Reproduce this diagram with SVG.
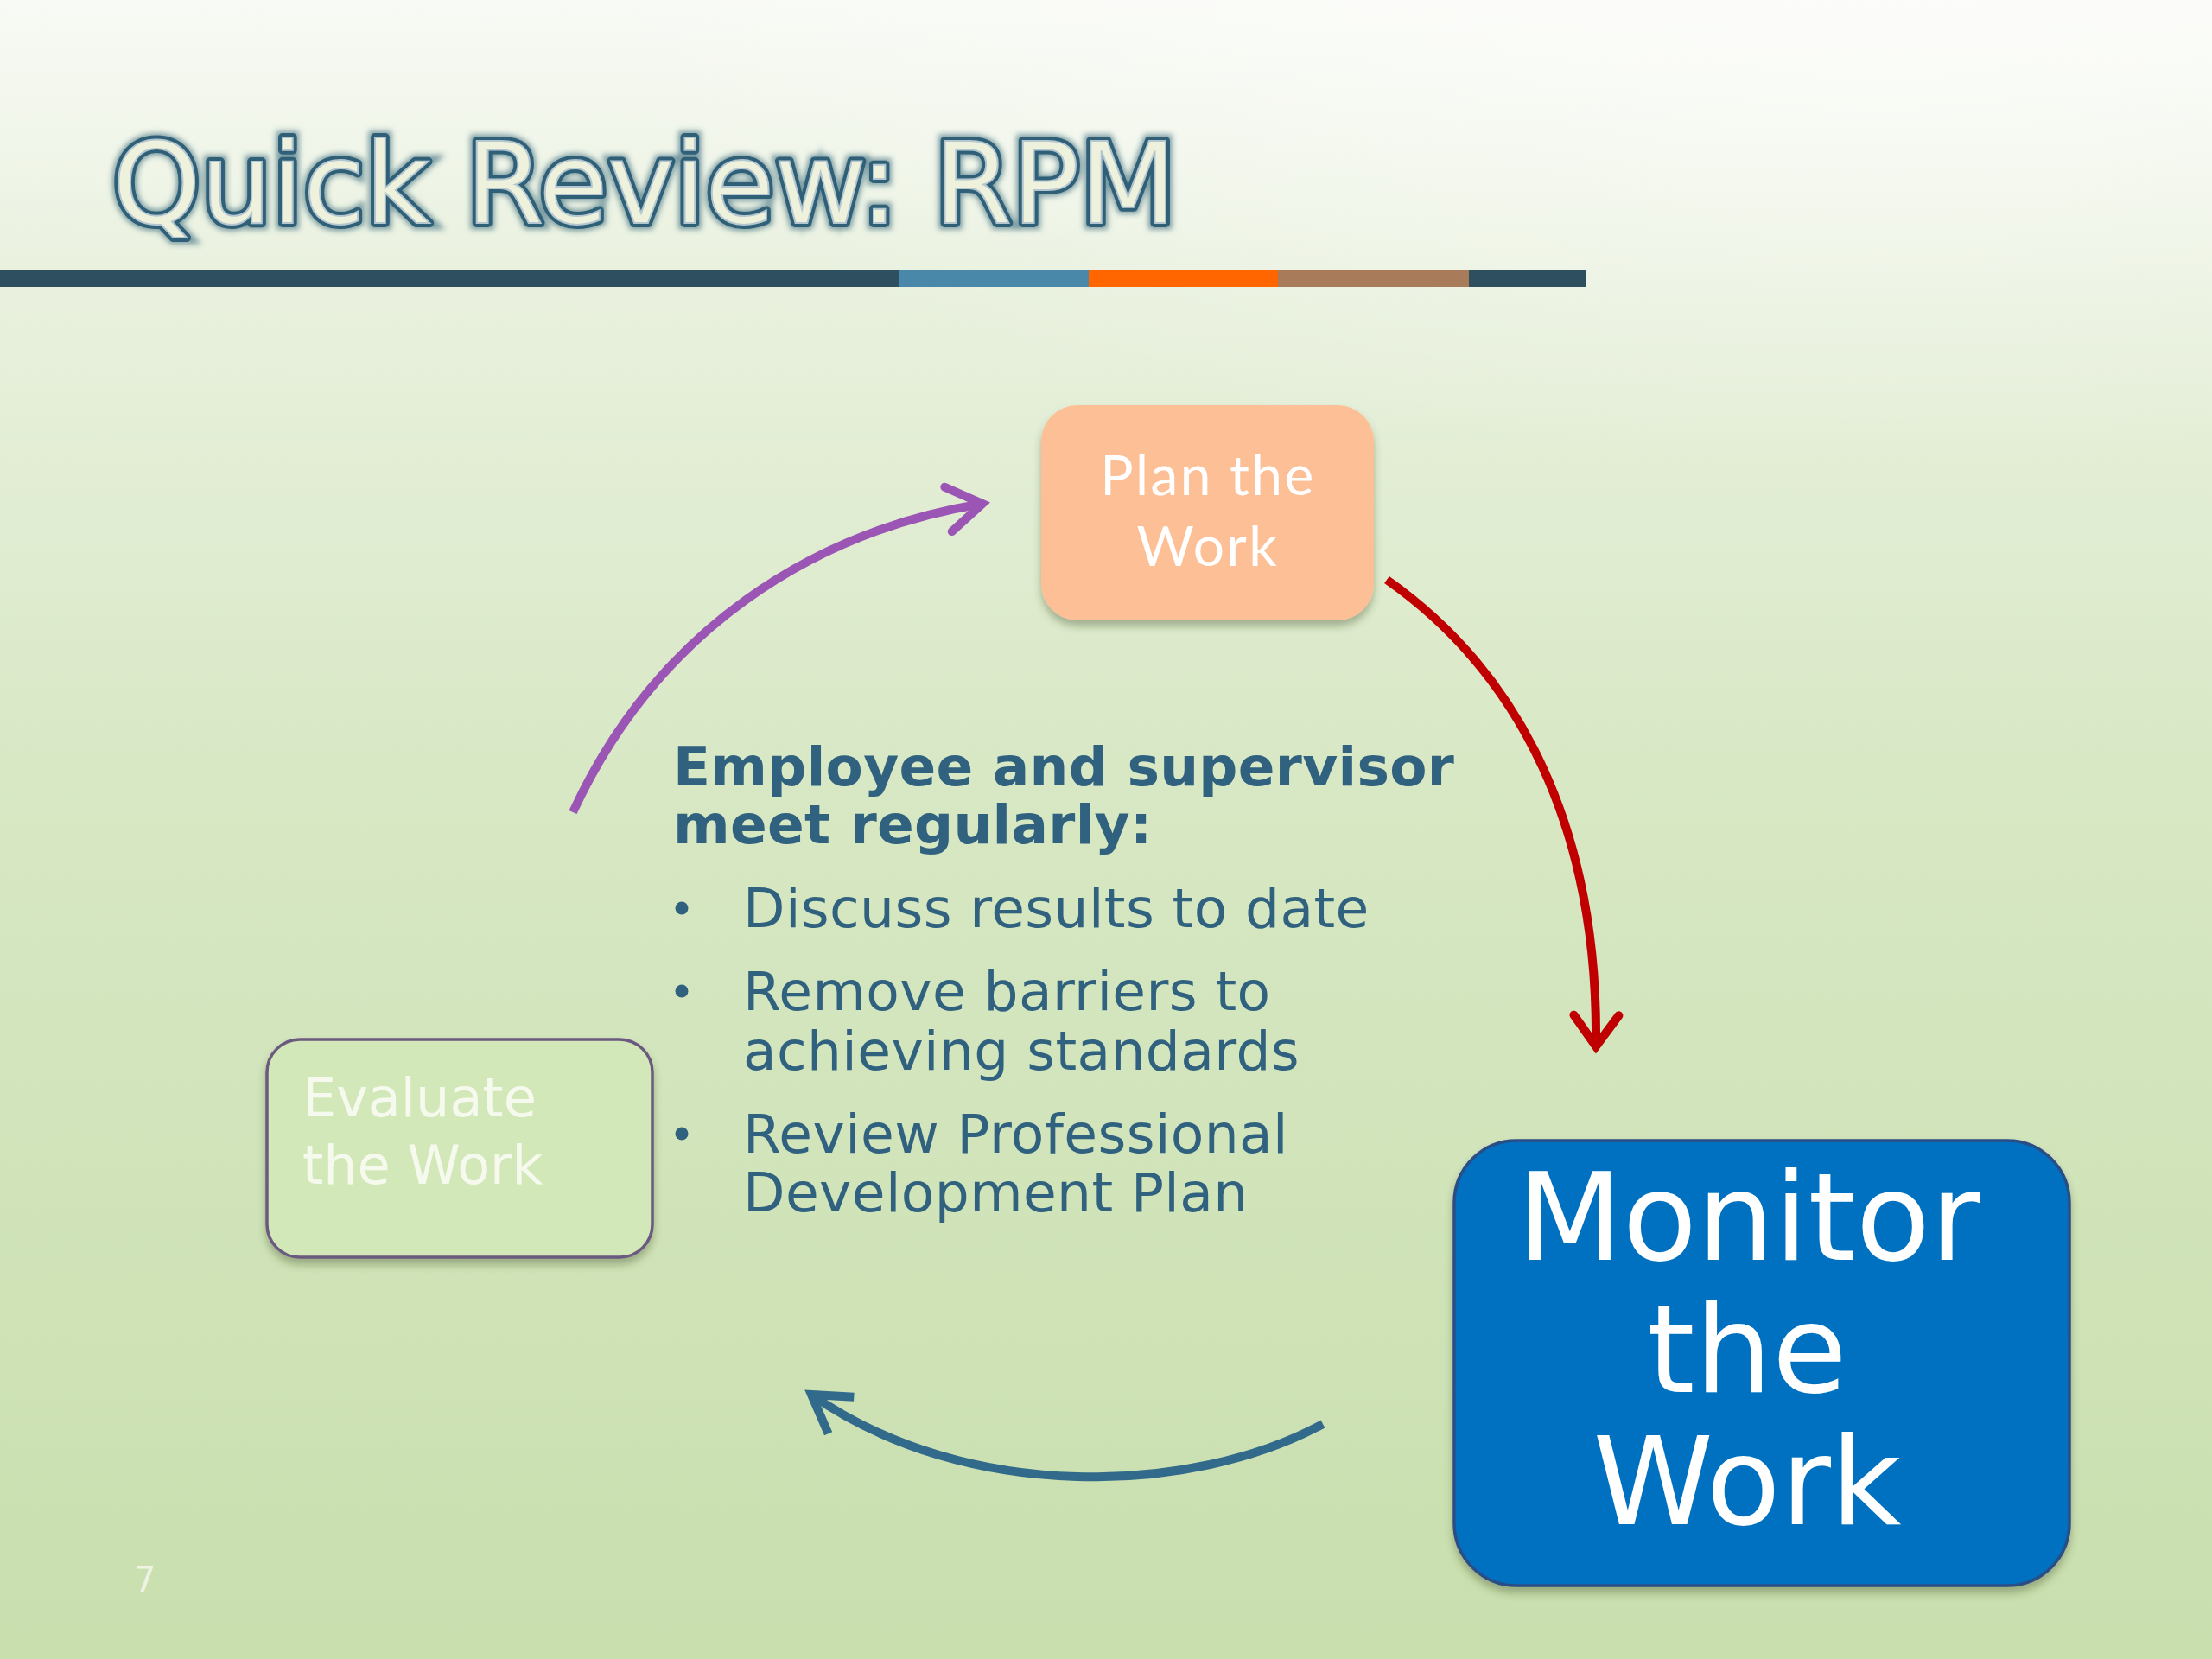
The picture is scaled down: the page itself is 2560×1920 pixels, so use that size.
<svg xmlns="http://www.w3.org/2000/svg" width="2560" height="1920" viewBox="0 0 2560 1920">
  <defs>
    <linearGradient id="bg" x1="0" y1="0" x2="0" y2="1">
      <stop offset="0" stop-color="#f8faf5"/>
      <stop offset="0.17" stop-color="#e9f1de"/>
      <stop offset="0.5" stop-color="#d6e7c2"/>
      <stop offset="1" stop-color="#c9dfae"/>
    </linearGradient>
    <radialGradient id="glow" cx="0.85" cy="0" r="0.6">
      <stop offset="0" stop-color="#ffffff" stop-opacity="0.6"/>
      <stop offset="1" stop-color="#ffffff" stop-opacity="0"/>
    </radialGradient>
    <filter id="shadow" x="-10%" y="-10%" width="120%" height="130%">
      <feDropShadow dx="0" dy="7" stdDeviation="5" flood-color="#304020" flood-opacity="0.35"/>
    </filter>
    <filter id="tblur" x="-5%" y="-20%" width="110%" height="140%">
      <feGaussianBlur stdDeviation="3"/>
    </filter>
    <marker id="ahPurple" markerUnits="strokeWidth" orient="auto" overflow="visible" markerWidth="10" markerHeight="10">
      <path d="M-4,-2.6 L0,0 L-4,2.6" fill="none" stroke="#9b55b5" stroke-width="1" stroke-linecap="round"/>
    </marker>
    <marker id="ahRed" markerUnits="strokeWidth" orient="auto" overflow="visible" markerWidth="10" markerHeight="10">
      <path d="M-3.6,-2.6 L0,0 L-3.6,2.6" fill="none" stroke="#c00000" stroke-width="1" stroke-linecap="round"/>
    </marker>
    <marker id="ahBlue" markerUnits="strokeWidth" orient="auto" overflow="visible" markerWidth="10" markerHeight="10">
      <path d="M-4.2,-2.6 L0,0 L-4.2,2.6" fill="none" stroke="#316a8a" stroke-width="1" stroke-linecap="butt"/>
    </marker>
    <style>
      .title { font-family: "DejaVu Sans", Verdana, sans-serif; font-size: 130px; }
      .body { font-family: "DejaVu Sans", Verdana, sans-serif; fill: #30617f; font-size: 63px; letter-spacing: 0.4px; }
      .bold { font-weight: bold; letter-spacing: 0.3px; }
      .dot { fill: #30617f; }
      .plan { font-family: Lato, "Open Sans", sans-serif; font-size: 64px; fill: #ffffff; letter-spacing: 2.5px; }
      .eval { font-family: "DejaVu Sans", Verdana, sans-serif; font-size: 62px; fill: #f6faee; }
      .mon { font-family: "DejaVu Sans", Verdana, sans-serif; font-size: 141px; fill: #ffffff; }
      .conn { fill: none; stroke-linecap: butt; }
    </style>
  </defs>

  <rect x="0" y="0" width="2560" height="1920" fill="url(#bg)"/>
  <rect x="0" y="0" width="2560" height="900" fill="url(#glow)"/>

  <g id="title">
    <text class="title" x="130" y="258" fill="none" stroke="#2e5f75" stroke-width="15" stroke-opacity="0.6" filter="url(#tblur)">Quick Review: RPM</text>
    <text class="title" x="130" y="258" fill="none" stroke="#2f6078" stroke-width="10" stroke-linejoin="round">Quick Review: RPM</text>
    <text class="title" x="130" y="258" fill="#eef2dc" stroke="#b4c6cf" stroke-width="2">Quick Review: RPM</text>
  </g>

  <g id="title-bar">
    <rect x="0" y="312" width="1040" height="20" fill="#2d4f5f"/>
    <rect x="1040" y="312" width="220" height="20" fill="#4a88aa"/>
    <rect x="1260" y="312" width="219" height="20" fill="#ff6600"/>
    <rect x="1479" y="312" width="221" height="20" fill="#a87c5a"/>
    <rect x="1700" y="312" width="135" height="20" fill="#2d4f5f"/>
  </g>

  <g id="connectors">
    <path class="conn" d="M663,940 C760,730 940,615 1137,583" stroke="#9b55b5" stroke-width="10" marker-end="url(#ahPurple)"/>
    <path class="conn" d="M1605,671 C1760,780 1850,960 1847,1211" stroke="#c00000" stroke-width="10" marker-end="url(#ahRed)"/>
    <path class="conn" d="M1531,1648 C1380,1730 1120,1740 939,1614" stroke="#316a8a" stroke-width="10" marker-end="url(#ahBlue)"/>
  </g>

  <g id="node-plan">
    <rect x="1205" y="469" width="385" height="249" rx="42" fill="#fdbf96" filter="url(#shadow)"/>
    <text class="plan" x="1398" y="573" text-anchor="middle">Plan the</text>
    <text class="plan" x="1398" y="655" text-anchor="middle">Work</text>
  </g>

  <g id="node-evaluate">
    <rect x="309" y="1203" width="446" height="252" rx="38" fill="#d3e8b8" stroke="#6b5a80" stroke-width="3.5" filter="url(#shadow)"/>
    <text class="eval" x="350" y="1292">Evaluate</text>
    <text class="eval" x="350" y="1370">the Work</text>
  </g>

  <g id="node-monitor">
    <rect x="1683" y="1320" width="712" height="515" rx="72" fill="#0070c0" stroke="#2b4e86" stroke-width="3.5" filter="url(#shadow)"/>
    <text class="mon" x="2024" y="1458" text-anchor="middle">Monitor</text>
    <text class="mon" x="2022" y="1611" text-anchor="middle">the</text>
    <text class="mon" x="2022" y="1764" text-anchor="middle">Work</text>
  </g>

  <g id="center-text">
    <text class="body bold" x="779" y="909">Employee and supervisor</text>
    <text class="body bold" x="779" y="976">meet regularly:</text>
    <circle class="dot" cx="789" cy="1051" r="7.5"/>
    <text class="body" x="860" y="1073">Discuss results to date</text>
    <circle class="dot" cx="789" cy="1147" r="7.5"/>
    <text class="body" x="860" y="1169">Remove barriers to</text>
    <text class="body" x="860" y="1238">achieving standards</text>
    <circle class="dot" cx="789" cy="1312" r="7.5"/>
    <text class="body" x="860" y="1334">Review Professional</text>
    <text class="body" x="860" y="1402">Development Plan</text>
  </g>

  <text id="page-number" x="155" y="1842" font-family="DejaVu Sans, Verdana, sans-serif" font-size="40" fill="#eef3e4">7</text>
</svg>
